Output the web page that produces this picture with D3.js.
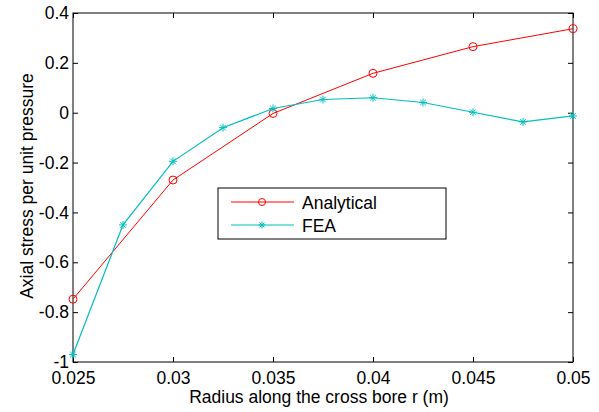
<!DOCTYPE html>
<html><head><meta charset="utf-8">
<script src="https://cdn.jsdelivr.net/npm/d3@7"></script>
<style>body{margin:0;background:#fff}svg{display:block}text{font-family:"Liberation Sans",Arial,sans-serif}</style>
</head><body>
<svg id="c" width="599" height="412"></svg>
<script>
const analyticalX = [0.025, 0.03, 0.035, 0.04, 0.045, 0.05];
const analyticalY = [-0.748, -0.27, -0.003, 0.158, 0.265, 0.337];
const feaX = [0.025, 0.0275, 0.03, 0.0325, 0.035, 0.0375, 0.04, 0.0425, 0.045, 0.0475, 0.05];
const feaY = [-0.97, -0.45, -0.195, -0.06, 0.017, 0.053, 0.06, 0.041, 0.002, -0.037, -0.013];
const xTicks = [0.025, 0.03, 0.035, 0.04, 0.045, 0.05];
const yTicks = [-1, -0.8, -0.6, -0.4, -0.2, 0, 0.2, 0.4];
const seriesNames = ["Analytical", "FEA"];
const seriesColors = ["#ff0000", "#00bfbf"];

const FS = 17.5;
const svg = d3.select("#c");
const L = 73, R = 573, T = 13, B = 362;
const x = d3.scaleLinear().domain([0.025, 0.05]).range([L, R]);
const y = d3.scaleLinear().domain([-1, 0.4]).range([B, T]);
const fmt = d => d === 0 ? "0" : String(d);

const ax = (g, axis) => { g.call(axis); g.select(".domain").remove();
  g.selectAll("line").attr("stroke", "#000"); };
svg.append("g").attr("transform", `translate(0,${B})`)
  .call(g => ax(g, d3.axisBottom(x).tickValues(xTicks).tickSize(-5).tickPadding(10).tickFormat(fmt)))
  .selectAll("text").attr("font-size", FS).attr("fill", "#000");
svg.append("g").attr("transform", `translate(0,${T})`)
  .call(g => ax(g, d3.axisTop(x).tickValues(xTicks).tickSize(-5).tickFormat("")));
svg.append("g").attr("transform", `translate(${L},0)`)
  .call(g => ax(g, d3.axisLeft(y).tickValues(yTicks).tickSize(-5).tickPadding(4).tickFormat(fmt)))
  .selectAll("text").attr("font-size", FS).attr("fill", "#000");
svg.append("g").attr("transform", `translate(${R},0)`)
  .call(g => ax(g, d3.axisRight(y).tickValues(yTicks).tickSize(-5).tickFormat("")));
svg.append("rect").attr("x", L).attr("y", T).attr("width", R - L).attr("height", B - T)
  .attr("fill", "none").attr("stroke", "#000").attr("stroke-width", 1);

svg.append("text").attr("x", 319).attr("y", 403).attr("text-anchor", "middle")
  .attr("font-size", FS).text("Radius along the cross bore r (m)");
svg.append("text").attr("transform", `translate(33,186) rotate(-90)`)
  .attr("text-anchor", "middle").attr("font-size", FS).text("Axial stress per unit pressure");

const line = d3.line().x(d => x(d[0])).y(d => y(d[1]));
const aData = analyticalX.map((v, i) => [v, analyticalY[i]]);
const fData = feaX.map((v, i) => [v, feaY[i]]);

function star(g, cx, cy, color, s = 4) {
  const p = `M${cx - s},${cy}L${cx + s},${cy}M${cx},${cy - s}L${cx},${cy + s}` +
    `M${cx - s * 0.7},${cy - s * 0.7}L${cx + s * 0.7},${cy + s * 0.7}M${cx - s * 0.7},${cy + s * 0.7}L${cx + s * 0.7},${cy - s * 0.7}`;
  g.append("path").attr("d", p).attr("stroke", color).attr("stroke-width", 1).attr("fill", "none");
}

svg.append("path").datum(aData).attr("d", line).attr("fill", "none").attr("stroke", seriesColors[0]).attr("stroke-width", 1);
svg.append("g").selectAll("circle").data(aData).join("circle")
  .attr("cx", d => x(d[0])).attr("cy", d => y(d[1])).attr("r", 4)
  .attr("fill", "none").attr("stroke", seriesColors[0]).attr("stroke-width", 1);

svg.append("path").datum(fData).attr("d", line).attr("fill", "none").attr("stroke", seriesColors[1]).attr("stroke-width", 1.2);
const fg = svg.append("g");
fData.forEach(d => star(fg, x(d[0]), y(d[1]), seriesColors[1]));

// legend
const lg = svg.append("g");
lg.append("rect").attr("x", 218).attr("y", 188).attr("width", 228).attr("height", 51)
  .attr("fill", "#fff").attr("stroke", "#000").attr("stroke-width", 1);
const rows = [202, 225];
seriesNames.forEach((n, i) => {
  lg.append("line").attr("x1", 231).attr("x2", 294).attr("y1", rows[i]).attr("y2", rows[i])
    .attr("stroke", seriesColors[i]).attr("stroke-width", 1);
  if (i === 0) lg.append("circle").attr("cx", 262).attr("cy", rows[i]).attr("r", 3.5)
    .attr("fill", "none").attr("stroke", seriesColors[i]);
  else star(lg, 262, rows[i], seriesColors[i], 3.5);
  lg.append("text").attr("x", 302).attr("y", rows[i] + 6.5).attr("font-size", FS).text(n);
});
</script>
</body></html>
